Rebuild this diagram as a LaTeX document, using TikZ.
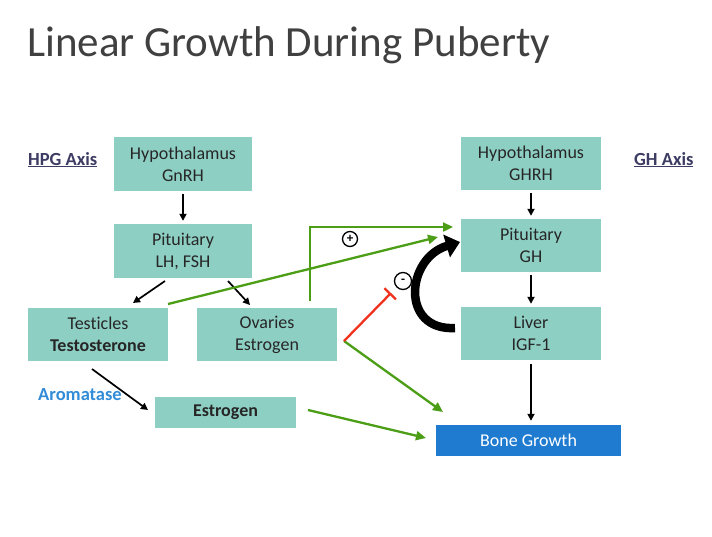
\documentclass[tikz,border=0pt]{standalone}
\usepackage{fontspec}
\setmainfont{Carlito}[Ligatures=NoCommon]
\usetikzlibrary{arrows.meta}
\definecolor{boxc}{RGB}{142,207,196}
\definecolor{txtc}{RGB}{38,38,38}
\definecolor{titlec}{RGB}{64,64,64}
\definecolor{axisc}{RGB}{60,60,100}
\definecolor{aromc}{RGB}{50,140,215}
\definecolor{bonec}{RGB}{30,123,208}
\definecolor{grnc}{RGB}{76,158,22}
\definecolor{redc}{RGB}{240,50,30}
\tikzset{
  box/.style={fill=boxc, draw=none, text=txtc, align=center, inner sep=0pt,
    font=\fontsize{18}{22}\selectfont},
  blk/.style={draw=black, line width=1.7pt, -{Triangle[length=7pt,width=7pt]}},
  grn/.style={draw=grnc, line width=2.3pt, -{Triangle[length=10pt,width=9pt]}},
  inhib/.style={draw=redc, line width=2.3pt, -{Bar[width=16pt,line width=2.3pt]}},
  sign/.style={circle, draw=black, line width=1.3pt, minimum size=15pt, inner sep=0pt,
    font=\fontsize{13}{13}\selectfont\bfseries},
  axislab/.style={anchor=base west, text=axisc, inner sep=0pt,
    font=\fontsize{18.5}{21}\selectfont\bfseries},
}
\begin{document}
\begin{tikzpicture}[x=1pt,y=-1pt]
\useasboundingbox[fill=white] (0,0) rectangle (712,536);

\node[anchor=base west, inner sep=0pt, text=titlec, font=\fontsize{43}{50}\selectfont] (title) at (27,56) {Linear Growth During Puberty};

% HPG axis boxes
\node[box, minimum width=138pt, minimum height=54pt] (hypL) at (183,164) {Hypothalamus\\GnRH};
\node[box, minimum width=138pt, minimum height=54pt] (pitL) at (183,251) {Pituitary\\LH, FSH};
\node[box, minimum width=140pt, minimum height=53pt] (test) at (98,334.5) {Testicles\\\textbf{Testosterone}};
\node[box, minimum width=140pt, minimum height=53pt] (ova) at (267,334.5) {Ovaries\\Estrogen};
\node[box, minimum width=141pt, minimum height=31pt] (estr) at (225.5,412.5) {\textbf{Estrogen}};

% GH axis boxes
\node[box, minimum width=140pt, minimum height=53pt] (hypR) at (531,163.5) {Hypothalamus\\GHRH};
\node[box, minimum width=140pt, minimum height=53pt] (pitR) at (531,245.5) {Pituitary\\GH};
\node[box, minimum width=140pt, minimum height=53pt] (liver) at (531,333.5) {Liver\\IGF-1};
\node[box, fill=bonec, text=white, minimum width=185pt, minimum height=31pt] (bone) at (528.5,440.5) {Bone Growth};

% labels
\node[axislab] (hpg) at (28,165) {\underline{HPG Axis}};
\node[axislab] (gha) at (634,165) {\underline{GH Axis}};
\node[axislab, text=aromc] (arom) at (38,400) {Aromatase};

% black arrows
\draw[blk, shorten <=3pt, shorten >=3pt] (hypL.south) -- (pitL.north);
\draw[blk, shorten <=3pt, shorten >=3pt] (hypR.south) -- (pitR.north);
\draw[blk, shorten <=3pt, shorten >=3pt] (pitR.south) -- (liver.north);
\draw[blk, shorten <=4pt, shorten >=4pt] (liver.south) -- (bone.north -| liver.south);
\coordinate (p1) at (165,281);
\coordinate (p2) at (133,303);
\coordinate (p3) at (228,281);
\coordinate (p4) at (250,305);
\coordinate (p5) at (92,369);
\coordinate (p6) at (148,410);
\draw[blk] (p1) -- (p2);
\draw[blk] (p3) -- (p4);
\draw[blk] (p5) -- (p6);

% green arrows
\coordinate (g1) at (168,304);
\coordinate (g2) at (438,237);
\draw[grn] (g1) -- (g2);
\coordinate (g3) at (310,301);
\coordinate (g4) at (310,227);
\coordinate (g5) at (453,227);
\draw[grn] (g3) -- (g4) -- (g5);
\coordinate (ovr) at (344,341);
\coordinate (g6) at (443,412);
\draw[grn] (ovr) -- (g6);
\coordinate (g7) at (308,410);
\coordinate (g8) at (426,438);
\draw[grn] (g7) -- (g8);

% red inhibition
\coordinate (inh) at (391,293);
\draw[inhib] (ovr) -- (inh);

% signs
\node[sign] (plus) at (350,239) {+};
\node[sign, minimum size=17pt] (minus) at (403,281) {-};

% curved feedback arrow
\coordinate (cb) at (455,328);
\coordinate (ct) at (460,242);
\draw[line width=8.5pt, -{Triangle[length=14pt,width=23pt]}] (cb) .. controls (400,331) and (406,258) .. (ct);
\end{tikzpicture}
\end{document}
